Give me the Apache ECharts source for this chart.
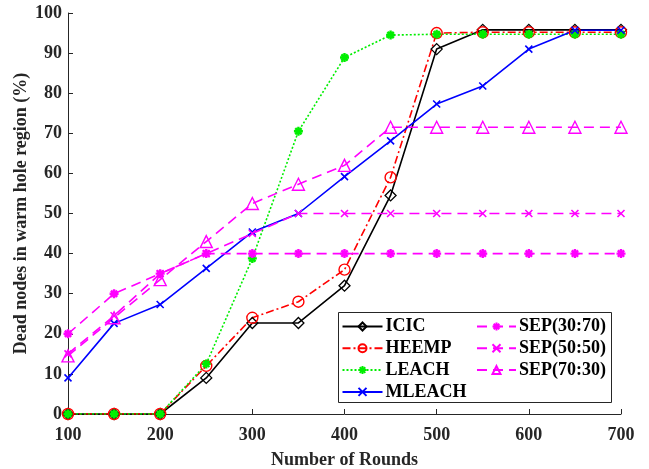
<!DOCTYPE html>
<html>
<head>
<meta charset="utf-8">
<script src="https://cdn.jsdelivr.net/npm/echarts@6/dist/echarts.min.js"></script>
<style>
  html, body { margin: 0; padding: 0; background: #fff; }
  #chart { width: 649px; height: 469px; }
</style>
</head>
<body>
<div id="chart"></div>
<script>
// Rounds on the x axis
const rounds = [100, 150, 200, 250, 300, 350, 400, 450, 500, 550, 600, 650, 700];

// Dead nodes in warm hole region (%) per protocol
const icic    = [0, 0, 0, 9, 22.7, 22.7, 32, 54.5, 91, 95.8, 95.8, 95.8, 95.8];
const heemp   = [0, 0, 0, 12, 24, 28, 36, 59, 95, 95.2, 95.2, 95.2, 95.2];
const leach   = [0, 0, 0, 12.5, 38.8, 70.5, 88.9, 94.5, 94.7, 94.7, 94.7, 94.7, 94.7];
const mleach  = [9, 22.6, 27.3, 36.3, 45.4, 50, 59.2, 68.1, 77.3, 81.8, 91, 95.7, 95.7];
const sep3070 = [20, 30, 35, 40, 40, 40, 40, 40, 40, 40, 40, 40, 40];
const sep5050 = [15, 24.5, 35, 40, 45, 50, 50, 50, 50, 50, 50, 50, 50];
const sep7030 = [14.5, 24, 33.5, 43, 52.5, 57.3, 62, 71.5, 71.5, 71.5, 71.5, 71.5, 71.5];

const seriesNames = ['ICIC', 'HEEMP', 'LEACH', 'MLEACH', 'SEP(30:70)', 'SEP(50:50)', 'SEP(70:30)'];

const FONT = '"Liberation Serif", "Times New Roman", serif';
const INK = '#262626';

// Stroked marker shapes
const crossPath = 'path://M0,0 L10,10 M10,0 L0,10';
const starPath = 'path://M5,0 L5,10 M0,5 L10,5 M1.5,1.5 L8.5,8.5 M8.5,1.5 L1.5,8.5';

function pairs(ys) { return rounds.map((x, i) => [x, ys[i]]); }

function makeSeries(name, ys, color, dash, symbol, size, width, fill) {
  return {
    name: name,
    type: 'line',
    data: pairs(ys),
    symbol: symbol,
    symbolSize: size,
    showAllSymbol: true,
    lineStyle: { color: color, width: 1.6, type: dash },
    itemStyle: { color: fill, borderColor: color, borderWidth: width },
    emphasis: { disabled: true },
    animation: false
  };
}

const legendText = {
  fontFamily: FONT, fontWeight: 'bold', fontSize: 18, color: '#000',
  lineHeight: 20, padding: [0, 0, 0, -2]
};

const chart = echarts.init(document.getElementById('chart'), null, { renderer: 'canvas' });

chart.setOption({
  backgroundColor: '#fff',
  animation: false,
  grid: { left: 68, right: 28, top: 13, bottom: 55, containLabel: false, outerBoundsMode: 'none' },
  xAxis: {
    type: 'value',
    min: 100, max: 700, interval: 100,
    name: 'Number of Rounds',
    nameLocation: 'middle',
    nameGap: 37,
    nameMoveOverlap: false,
    nameTextStyle: { fontFamily: FONT, fontWeight: 'bold', fontSize: 18, color: INK },
    axisLine: { show: true, lineStyle: { color: INK, width: 1 } },
    axisTick: { show: true, inside: true, length: 5, lineStyle: { color: INK } },
    axisLabel: { fontFamily: FONT, fontWeight: 'bold', fontSize: 18, color: INK, margin: 12 },
    splitLine: { show: false }
  },
  yAxis: {
    type: 'value',
    min: 0, max: 100, interval: 10,
    name: 'Dead nodes in warm hole region (%)',
    nameLocation: 'middle',
    nameGap: 38,
    nameMoveOverlap: false,
    nameTextStyle: { fontFamily: FONT, fontWeight: 'bold', fontSize: 18, color: INK },
    axisLine: { show: true, lineStyle: { color: INK, width: 1 } },
    axisTick: { show: true, inside: true, length: 5, lineStyle: { color: INK } },
    axisLabel: { fontFamily: FONT, fontWeight: 'bold', fontSize: 18, color: INK, margin: 6 },
    splitLine: { show: false }
  },
  graphic: [{
    type: 'rect',
    shape: { x: 338.5, y: 312.5, width: 273, height: 90 },
    style: { fill: '#fff', stroke: INK, lineWidth: 1 },
    z: 3,
    silent: true
  }],
  legend: [{
    data: seriesNames.slice(0, 4),
    orient: 'vertical',
    left: 341.5, top: 316.5,
    itemWidth: 40, itemHeight: 10, itemGap: 1.8,
    padding: 0,
    textStyle: legendText,
    z: 5
  }, {
    data: seriesNames.slice(4),
    orient: 'vertical',
    left: 476, top: 316.5,
    itemWidth: 39, itemHeight: 10, itemGap: 1.8,
    padding: 0,
    textStyle: legendText,
    z: 5
  }],
  series: [
    makeSeries('ICIC', icic, '#000000', 'solid', 'diamond', 11, 1.3, 'rgba(0,0,0,0)'),
    makeSeries('HEEMP', heemp, '#ff0000', [8, 3, 2, 3], 'circle', 11, 1.4, 'rgba(0,0,0,0)'),
    makeSeries('LEACH', leach, '#00ee00', [2, 2], starPath, 9, 2.4, '#00ee00'),
    makeSeries('MLEACH', mleach, '#0000ff', 'solid', crossPath, 7, 1.6, 'rgba(0,0,0,0)'),
    makeSeries('SEP(30:70)', sep3070, '#ff00ff', [10, 6], starPath, 9, 2.4, '#ff00ff'),
    makeSeries('SEP(50:50)', sep5050, '#ff00ff', [10, 6], crossPath, 7, 1.6, 'rgba(0,0,0,0)'),
    makeSeries('SEP(70:30)', sep7030, '#ff00ff', [10, 6], 'triangle', 12, 1.4, 'rgba(0,0,0,0)')
  ]
});
</script>
</body>
</html>
